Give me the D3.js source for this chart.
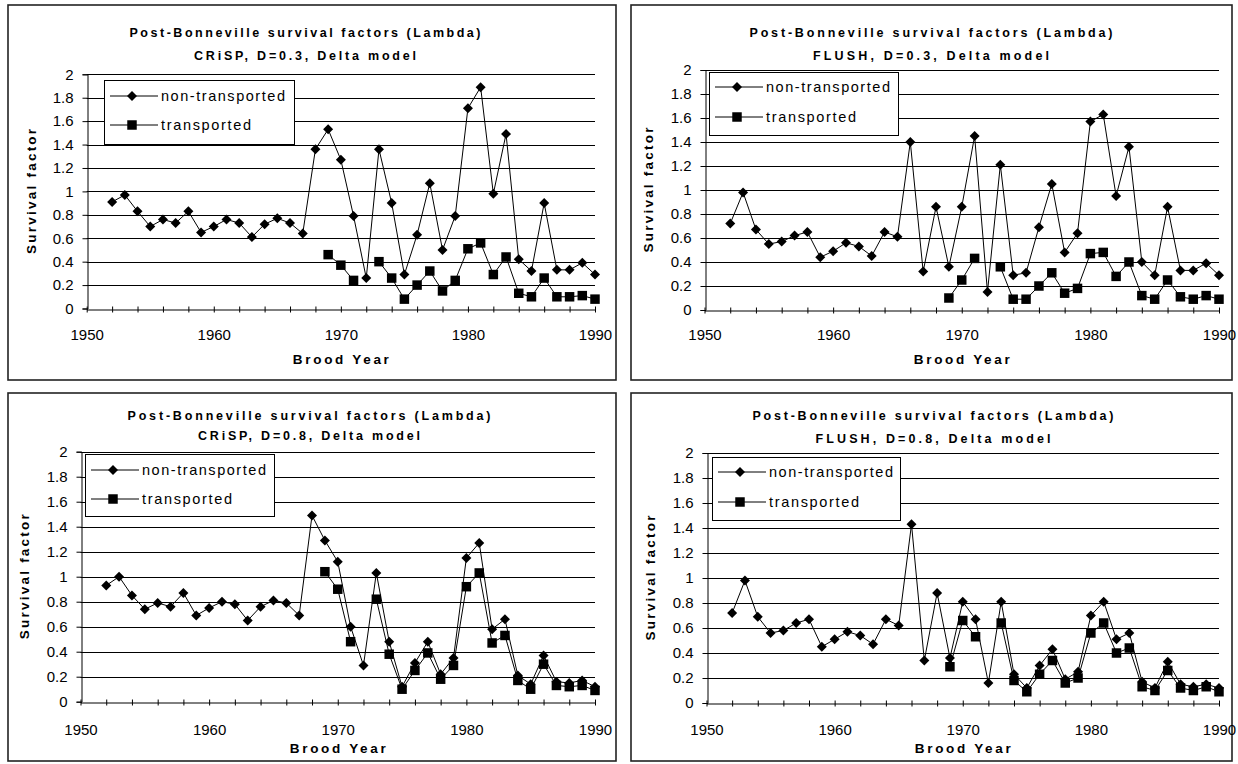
<!DOCTYPE html>
<html>
<head>
<meta charset="utf-8">
<script src="https://cdn.jsdelivr.net/npm/d3@7"></script>
<style>
  body { margin: 0; background: #fff; }
  svg { display: block; }
  text { font-family: Arial, "Liberation Sans", sans-serif; fill: #000; }
</style>
</head>
<body>
<svg id="chart" width="1238" height="764"></svg>
<script>
// Brood years for the non-transported series
const years = [1952, 1953, 1954, 1955, 1956, 1957, 1958, 1959, 1960, 1961, 1962, 1963, 1964,
  1965, 1966, 1967, 1968, 1969, 1970, 1971, 1972, 1973, 1974, 1975, 1976, 1977, 1978, 1979,
  1980, 1981, 1982, 1983, 1984, 1985, 1986, 1987, 1988, 1989, 1990];
// Brood years with a transported group (no value for 1972)
const transportYears = [1969, 1970, 1971, 1972, 1973, 1974, 1975, 1976, 1977, 1978, 1979,
  1980, 1981, 1982, 1983, 1984, 1985, 1986, 1987, 1988, 1989, 1990];

const crispD03NonTransported = [0.91, 0.97, 0.83, 0.70, 0.76, 0.73, 0.83, 0.65, 0.70, 0.76, 0.73,
  0.61, 0.72, 0.77, 0.73, 0.64, 1.36, 1.53, 1.27, 0.79, 0.26, 1.36, 0.90, 0.29, 0.63, 1.07, 0.50,
  0.79, 1.71, 1.89, 0.98, 1.49, 0.42, 0.32, 0.90, 0.33, 0.33, 0.39, 0.29];
const crispD03Transported = [0.46, 0.37, 0.24, null, 0.40, 0.26, 0.08, 0.20, 0.32, 0.15, 0.24,
  0.51, 0.56, 0.29, 0.44, 0.13, 0.10, 0.26, 0.10, 0.10, 0.11, 0.08];

const flushD03NonTransported = [0.72, 0.98, 0.67, 0.55, 0.57, 0.62, 0.65, 0.44, 0.49, 0.56, 0.53,
  0.45, 0.65, 0.61, 1.40, 0.32, 0.86, 0.36, 0.86, 1.45, 0.15, 1.21, 0.29, 0.31, 0.69, 1.05, 0.48,
  0.64, 1.57, 1.63, 0.95, 1.36, 0.40, 0.29, 0.86, 0.33, 0.33, 0.39, 0.29];
const flushD03Transported = [0.10, 0.25, 0.43, null, 0.36, 0.09, 0.09, 0.20, 0.31, 0.14, 0.18,
  0.47, 0.48, 0.28, 0.40, 0.12, 0.09, 0.25, 0.11, 0.09, 0.12, 0.09];

const crispD08NonTransported = [0.93, 1.00, 0.85, 0.74, 0.79, 0.76, 0.87, 0.69, 0.75, 0.80, 0.78,
  0.65, 0.76, 0.81, 0.79, 0.69, 1.49, 1.29, 1.12, 0.60, 0.29, 1.03, 0.48, 0.12, 0.31, 0.48, 0.22,
  0.35, 1.15, 1.27, 0.58, 0.66, 0.21, 0.14, 0.37, 0.16, 0.15, 0.17, 0.12];
const crispD08Transported = [1.04, 0.90, 0.48, null, 0.82, 0.38, 0.10, 0.25, 0.39, 0.18, 0.29,
  0.92, 1.03, 0.47, 0.53, 0.17, 0.10, 0.30, 0.13, 0.12, 0.13, 0.09];

const flushD08NonTransported = [0.72, 0.98, 0.69, 0.56, 0.58, 0.64, 0.67, 0.45, 0.51, 0.57, 0.54,
  0.47, 0.67, 0.62, 1.43, 0.34, 0.88, 0.36, 0.81, 0.67, 0.16, 0.81, 0.23, 0.12, 0.30, 0.43, 0.19,
  0.25, 0.70, 0.81, 0.51, 0.56, 0.17, 0.12, 0.33, 0.15, 0.13, 0.15, 0.12];
const flushD08Transported = [0.29, 0.66, 0.53, null, 0.64, 0.18, 0.09, 0.23, 0.34, 0.16, 0.20,
  0.56, 0.64, 0.40, 0.44, 0.13, 0.10, 0.26, 0.12, 0.10, 0.13, 0.09];

// Axis ticks and labels
const xTickValues = [1950, 1952, 1954, 1956, 1958, 1960, 1962, 1964, 1966, 1968, 1970, 1972,
  1974, 1976, 1978, 1980, 1982, 1984, 1986, 1988, 1990];
const xTickLabels = ["1950", "1960", "1970", "1980", "1990"];
const yTickValues = [0, 0.2, 0.4, 0.6, 0.8, 1, 1.2, 1.4, 1.6, 1.8, 2];
const yTickLabels = ["0", "0.2", "0.4", "0.6", "0.8", "1", "1.2", "1.4", "1.6", "1.8", "2"];

const chartTitle = "Post-Bonneville survival factors (Lambda)";
const subtitles = ["CRiSP, D=0.3, Delta model", "FLUSH, D=0.3, Delta model",
  "CRiSP, D=0.8, Delta model", "FLUSH, D=0.8, Delta model"];
const seriesNames = ["non-transported", "transported"];
const xAxisTitle = "Brood Year";
const yAxisTitle = "Survival factor";

// Panel geometry
const panels = [
  { frame: [8, 5, 616, 380], plot: { x0: 86.7, x1: 595, y0: 308.5, y1: 74.3 },
    titleX: 305, titleY: 37, titleLen: 351, subY: 59.5, subLen: 222,
    legend: { x: 104, y: 80, w: 190, h: 64, r1: 96, r2: 125 },
    tickLabelY: 340, xTitleY: 364, yTitleX: 36,
    non: crispD03NonTransported, trans: crispD03Transported, sub: subtitles[0] },
  { frame: [631, 5, 1232, 380], plot: { x0: 704.5, x1: 1219, y0: 310, y1: 70 },
    titleX: 931, titleY: 37, titleLen: 363, subY: 59.5, subLen: 236,
    legend: { x: 709, y: 72, w: 189, h: 63, r1: 87, r2: 117 },
    tickLabelY: 340, xTitleY: 364, yTitleX: 653,
    non: flushD03NonTransported, trans: flushD03Transported, sub: subtitles[1] },
  { frame: [8, 393, 616, 761], plot: { x0: 80.5, x1: 595, y0: 701.7, y1: 451.7 },
    titleX: 309, titleY: 420, titleLen: 363, subY: 440, subLen: 222,
    legend: { x: 85, y: 454, w: 189, h: 62, r1: 470, r2: 499 },
    tickLabelY: 735, xTitleY: 753, yTitleX: 29,
    non: crispD08NonTransported, trans: crispD08Transported, sub: subtitles[2] },
  { frame: [631, 393, 1232, 761], plot: { x0: 706.5, x1: 1219, y0: 703, y1: 453 },
    titleX: 933, titleY: 420, titleLen: 361, subY: 443, subLen: 235,
    legend: { x: 712, y: 457, w: 188, h: 63, r1: 472, r2: 502 },
    tickLabelY: 735, xTitleY: 753, yTitleX: 655,
    non: flushD08NonTransported, trans: flushD08Transported, sub: subtitles[3] }
];

const svg = d3.select("#chart");

// Excel-style markers: diamond (rotated square) and filled square
const diamondPath = d3.symbol(d3.symbolSquare, 50)();
const squarePath = d3.symbol(d3.symbolSquare, 90)();

function drawMarker(g, x, y, kind) {
  g.append("path")
    .attr("d", kind === "diamond" ? diamondPath : squarePath)
    .attr("transform", kind === "diamond" ? `translate(${x},${y}) rotate(45)` : `translate(${x},${y})`)
    .attr("fill", "#000");
}

panels.forEach(p => {
  const g = svg.append("g");
  const [fx0, fy0, fx1, fy1] = p.frame;

  // Chart frame
  g.append("rect")
    .attr("x", fx0).attr("y", fy0)
    .attr("width", fx1 - fx0).attr("height", fy1 - fy0)
    .attr("fill", "#fff").attr("stroke", "#222").attr("stroke-width", 1.6);

  const x = d3.scaleLinear().domain([1950, 1990]).range([p.plot.x0, p.plot.x1]);
  const y = d3.scaleLinear().domain([0, 2]).range([p.plot.y0, p.plot.y1]);

  // Titles
  g.append("text").attr("x", p.titleX).attr("y", p.titleY)
    .attr("text-anchor", "middle").attr("font-weight", "bold").attr("font-size", 12.5)
    .attr("textLength", p.titleLen).attr("lengthAdjust", "spacing")
    .text(chartTitle);
  g.append("text").attr("x", p.titleX).attr("y", p.subY)
    .attr("text-anchor", "middle").attr("font-weight", "bold").attr("font-size", 12.5)
    .attr("textLength", p.subLen).attr("lengthAdjust", "spacing")
    .text(p.sub);

  // Horizontal gridlines
  g.append("g").selectAll("line").data(yTickValues.filter(v => v > 0)).join("line")
    .attr("x1", p.plot.x0).attr("x2", p.plot.x1)
    .attr("y1", d => Math.round(y(d)) + 0.5).attr("y2", d => Math.round(y(d)) + 0.5)
    .attr("stroke", "#000").attr("stroke-width", 1);

  // Y axis
  const yAxis = d3.axisLeft(y).tickValues(yTickValues)
    .tickFormat((d, i) => yTickLabels[i]).tickSize(5).tickPadding(9);
  const yg = g.append("g").attr("transform", `translate(${Math.round(p.plot.x0) + 0.5},0)`).call(yAxis);
  yg.select(".domain").attr("stroke", "#000");
  yg.selectAll(".tick line").attr("stroke", "#000");
  yg.selectAll(".tick text").attr("font-size", 15).attr("font-family", null);

  // X axis: ticks every two years crossing the axis, labels at decades
  const xAxis = d3.axisBottom(x).tickValues(xTickValues)
    .tickFormat(d => xTickLabels.includes(String(d)) ? String(d) : "")
    .tickSize(3).tickSizeOuter(0);
  const xg = g.append("g").attr("transform", `translate(0,${Math.round(p.plot.y0) + 0.5})`).call(xAxis);
  xg.select(".domain").attr("stroke", "#000");
  xg.selectAll(".tick line").attr("y1", -3).attr("stroke", "#000");
  xg.selectAll(".tick text").attr("font-size", 15).attr("font-family", null)
    .attr("dy", null).attr("y", p.tickLabelY - Math.round(p.plot.y0) - 0.5);

  // Axis titles
  g.append("text").attr("x", (p.plot.x0 + p.plot.x1) / 2).attr("y", p.xTitleY)
    .attr("text-anchor", "middle").attr("font-weight", "bold").attr("font-size", 13.5)
    .attr("textLength", 96).attr("lengthAdjust", "spacing")
    .text(xAxisTitle);
  g.append("text")
    .attr("transform", `translate(${p.yTitleX},${(p.plot.y0 + p.plot.y1) / 2}) rotate(-90)`)
    .attr("text-anchor", "middle").attr("font-weight", "bold").attr("font-size", 13.5)
    .attr("textLength", 125).attr("lengthAdjust", "spacing")
    .text(yAxisTitle);

  // Series
  const line = d3.line().defined(d => d[1] != null).x(d => x(d[0])).y(d => y(d[1]));
  const nonPts = years.map((yr, i) => [yr, p.non[i]]);
  const transPts = transportYears.map((yr, i) => [yr, p.trans[i]]);

  g.append("path").datum(nonPts).attr("d", line)
    .attr("fill", "none").attr("stroke", "#000").attr("stroke-width", 1);
  g.append("path").datum(transPts).attr("d", line)
    .attr("fill", "none").attr("stroke", "#000").attr("stroke-width", 1);

  const mk = g.append("g");
  transPts.filter(d => d[1] != null).forEach(d => drawMarker(mk, x(d[0]), y(d[1]), "square"));
  nonPts.forEach(d => drawMarker(mk, x(d[0]), y(d[1]), "diamond"));

  // Legend
  const L = p.legend;
  const lg = g.append("g");
  lg.append("rect").attr("x", L.x + 0.5).attr("y", L.y + 0.5).attr("width", L.w).attr("height", L.h)
    .attr("fill", "#fff").attr("stroke", "#000").attr("stroke-width", 1);
  [[L.r1, "diamond", seriesNames[0], 124], [L.r2, "square", seriesNames[1], 90]].forEach(([ry, kind, label, len]) => {
    lg.append("line").attr("x1", L.x + 6).attr("x2", L.x + 54)
      .attr("y1", ry).attr("y2", ry).attr("stroke", "#000").attr("stroke-width", 1);
    drawMarker(lg, L.x + 28, ry, kind);
    lg.append("text").attr("x", L.x + 57).attr("y", ry + 5)
      .attr("font-size", 14.5).attr("textLength", len).attr("lengthAdjust", "spacing")
      .text(label);
  });
});
</script>
</body>
</html>
